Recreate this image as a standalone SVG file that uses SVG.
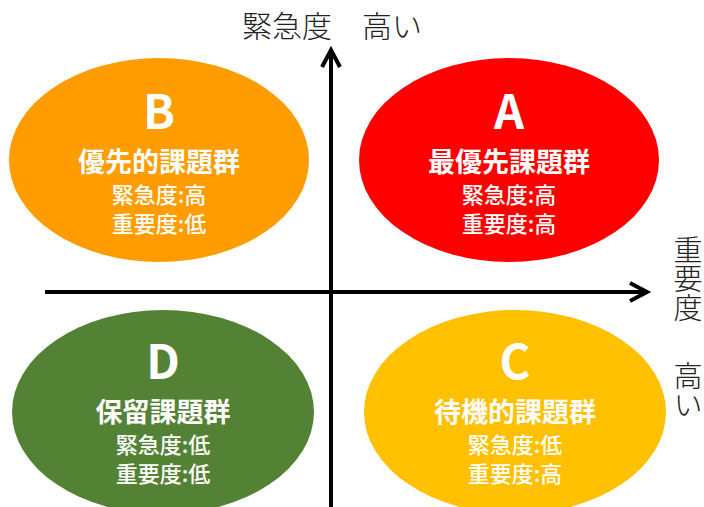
<svg xmlns="http://www.w3.org/2000/svg" width="704" height="507" viewBox="0 0 704 507">
<style>
text{font-family:"Noto Sans CJK JP","Noto Sans CJK SC",sans-serif;text-anchor:middle}
.letter{font-size:47px;font-weight:bold;fill:#fff}
.title{font-size:27px;font-weight:600;fill:#fff}
.sub{font-size:22px;font-weight:500;fill:#fff}
.axl{font-size:30px;font-weight:300;fill:#222}
.axv{font-size:29px;font-weight:300;fill:#222;writing-mode:vertical-rl;text-anchor:start}
.ax{stroke:#000;stroke-width:4;fill:none}
</style>
<rect width="704" height="507" fill="#fff"/>
<g id="nodeB">
<ellipse cx="159" cy="160" rx="150" ry="102" fill="#FF9C00"/>
<text class="letter" x="159" y="129">B</text>
<text class="title" x="159" y="172">優先的課題群</text>
<text class="sub" x="159" y="203">緊急度:高</text>
<text class="sub" x="159" y="232">重要度:低</text>
</g>
<g id="nodeA">
<ellipse cx="509" cy="160" rx="150" ry="102" fill="#FF0000"/>
<text class="letter" x="509" y="129">A</text>
<text class="title" x="509" y="172">最優先課題群</text>
<text class="sub" x="509" y="203">緊急度:高</text>
<text class="sub" x="509" y="232">重要度:高</text>
</g>
<g id="nodeD">
<ellipse cx="163" cy="412" rx="151" ry="102" fill="#548235"/>
<text class="letter" x="163" y="379">D</text>
<text class="title" x="163" y="422">保留課題群</text>
<text class="sub" x="163" y="453">緊急度:低</text>
<text class="sub" x="163" y="482">重要度:低</text>
</g>
<g id="nodeC">
<ellipse cx="515" cy="412" rx="151" ry="102" fill="#FFC000"/>
<text class="letter" x="515" y="379">C</text>
<text class="title" x="515" y="422">待機的課題群</text>
<text class="sub" x="515" y="453">緊急度:低</text>
<text class="sub" x="515" y="482">重要度:高</text>
</g>
<g id="connectors">
<line class="ax" x1="331" y1="507" x2="331" y2="50"/>
<polyline class="ax" points="322,67 331,50 340,67"/>
<line class="ax" x1="45" y1="292" x2="647" y2="292"/>
<polyline class="ax" points="630,283 647,292 630,301"/>
</g>
<g id="labels">
<text class="axl" x="332" y="37">緊急度　高い</text>
<text class="axv" x="688" y="235">重要度</text>
<text class="axv" x="688" y="361">高い</text>
</g>
</svg>
